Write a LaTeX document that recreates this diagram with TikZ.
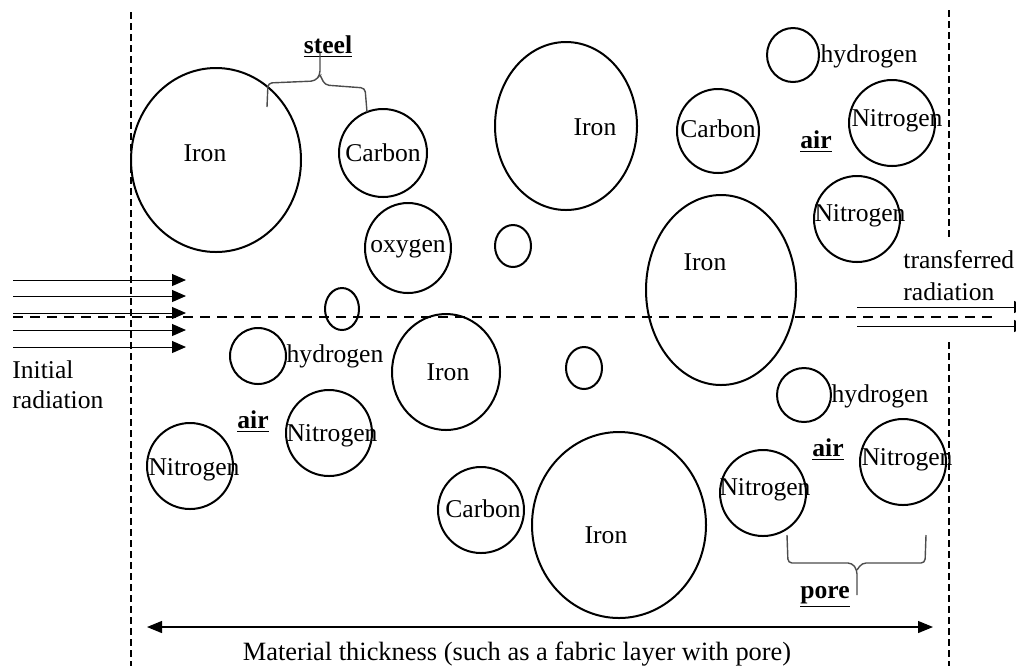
\documentclass[tikz,border=0pt]{standalone}
\usepackage{fontspec}
\setmainfont{Liberation Serif}
\usetikzlibrary{shapes.geometric,arrows.meta}
\begin{document}
\begin{tikzpicture}[x=0.5pt,y=-0.5pt,
  ball/.style={draw, ellipse, line width=1pt, inner sep=0pt, outer sep=0pt},
  lbl/.style={font=\fontsize{12.8}{15}\selectfont, inner sep=0pt, anchor=base},
  blbl/.style={font=\fontsize{12.8}{15}\selectfont\bfseries, inner sep=0pt, anchor=base},
  vdash/.style={line width=1.4pt, dash pattern=on 3.5pt off 2pt},
  hdash/.style={line width=1.2pt, dash pattern=on 5pt off 3.5pt},
  ray/.style={line width=0.5pt, -{Triangle[length=7pt,width=6pt]}},
  bracepath/.style={line width=0.7pt, draw=black!70, rounded corners=2pt}]
\useasboundingbox (0,0) rectangle (1016,666);
% particles
\node[ball, minimum width=85pt, minimum height=92pt] (ironA) at (216,160) {};
\node[ball, minimum width=44pt, minimum height=44pt] (carbonA) at (383,153) {};
\node[ball, minimum width=43pt, minimum height=45pt] (oxy) at (408,248) {};
\node[ball, minimum width=18pt, minimum height=21pt] (smA) at (513,246) {};
\node[ball, minimum width=17pt, minimum height=21pt] (smB) at (342,309) {};
\node[ball, minimum width=71pt, minimum height=84pt] (ironB) at (566,126) {};
\node[ball, minimum width=41pt, minimum height=42pt] (carbonB) at (718,131) {};
\node[ball, minimum width=26pt, minimum height=27pt] (hydA) at (793,55) {};
\node[ball, minimum width=43pt, minimum height=43pt] (nitA) at (892,123) {};
\node[ball, minimum width=43pt, minimum height=43pt] (nitB) at (857,219) {};
\node[ball, minimum width=75pt, minimum height=95pt] (ironC) at (721,290) {};
\node[ball, minimum width=28pt, minimum height=28pt] (hydB) at (258,356) {};
\node[ball, minimum width=54pt, minimum height=58pt] (ironD) at (446,372) {};
\node[ball, minimum width=18pt, minimum height=21pt] (smC) at (584,368) {};
\node[ball, minimum width=27pt, minimum height=27pt] (hydC) at (804,395) {};
\node[ball, minimum width=43pt, minimum height=43pt] (nitC) at (329,433) {};
\node[ball, minimum width=43pt, minimum height=43pt] (nitD) at (190,466) {};
\node[ball, minimum width=43pt, minimum height=43pt] (carbonC) at (481,510) {};
\node[ball, minimum width=87pt, minimum height=93pt] (ironE) at (619,525) {};
\node[ball, minimum width=43pt, minimum height=43pt] (nitE) at (763,493) {};
\node[ball, minimum width=43pt, minimum height=43pt] (nitF) at (903,462) {};
% labels
\node[lbl] (tIronA) at (205,161) {Iron};
\node[lbl] (tCarbonA) at (383,161) {Carbon};
\node[lbl] (tOxy) at (408,252) {oxygen};
\node[lbl] (tIronB) at (595,135) {Iron};
\node[lbl] (tCarbonB) at (718,137) {Carbon};
\node[lbl] (tHydA) at (869,62) {hydrogen};
\node[lbl] (tNitA) at (897,126) {Nitrogen};
\node[lbl] (tNitB) at (860,221) {Nitrogen};
\node[lbl] (tIronC) at (705,270) {Iron};
\node[lbl] (tHydB) at (335,362) {hydrogen};
\node[lbl] (tIronD) at (448,380) {Iron};
\node[lbl] (tHydC) at (880,402) {hydrogen};
\node[lbl] (tNitC) at (332,441) {Nitrogen};
\node[lbl] (tNitD) at (194,475) {Nitrogen};
\node[lbl] (tCarbonC) at (483,517) {Carbon};
\node[lbl] (tIronE) at (606,543) {Iron};
\node[lbl] (tNitE) at (765,495) {Nitrogen};
\node[lbl] (tNitF) at (907,465) {Nitrogen};
\node[blbl] (air1) at (816,148) {\underline{air}};
\node[blbl] (air2) at (253,428) {\underline{air}};
\node[blbl] (air3) at (828,456) {\underline{air}};
\node[blbl] (steel) at (328,53) {\underline{steel}};
\node[blbl] (pore) at (825,598) {\underline{pore}};
% braces
\draw[bracepath] (267,107) -- (268,83) -- (315,81) -- (320,75) -- (320,53);
\draw[bracepath] (320,75) -- (325,85) -- (365,88) -- (367,112);
\draw[bracepath] (787,535) -- (788,563) -- (852,563) -- (857,570) -- (857,595);
\draw[bracepath] (857,570) -- (862,563) -- (925,563) -- (926,535);
% boundaries
\coordinate (lt) at (131,12); \coordinate (lb) at (131,666);
\coordinate (rt) at (949,10); \coordinate (rm1) at (949,238);
\coordinate (rm2) at (949,342); \coordinate (rb) at (949,666);
\draw[vdash] (lt) -- (lb);
\draw[vdash] (rt) -- (rm1);
\draw[vdash] (rm2) -- (rb);
% incoming rays
\foreach \i/\y in {1/280,2/296,3/313,4/330,5/347}{
  \coordinate (in\i) at (13,\y); \coordinate (inE\i) at (186,\y);
  \draw[ray] (in\i) -- (inE\i);
}
% central axis
\coordinate (axL) at (13,317); \coordinate (axR) at (998,317);
\draw[hdash] (axL) -- (axR);
% outgoing rays
\foreach \i/\y in {1/307,2/326}{
  \coordinate (out\i) at (857,\y); \coordinate (outE\i) at (1028,\y);
  \draw[ray] (out\i) -- (outE\i);
}
% texts
\node[lbl, anchor=base west] (init1) at (12,378) {Initial};
\node[lbl, anchor=base west] (init2) at (12,408) {radiation};
\node[lbl, anchor=base west] (tr1) at (903,268) {transferred};
\node[lbl, anchor=base west] (tr2) at (903,300) {radiation};
% thickness
\coordinate (thL) at (147,627); \coordinate (thR) at (933,627);
\draw[line width=0.6pt, {Triangle[length=7.5pt,width=6pt]}-{Triangle[length=7.5pt,width=6pt]}] (thL) -- (thR);
\node[lbl, font=\fontsize{13.2}{15}\selectfont] (thick) at (517,660) {Material thickness (such as a fabric layer with pore)};
\end{tikzpicture}
\end{document}
